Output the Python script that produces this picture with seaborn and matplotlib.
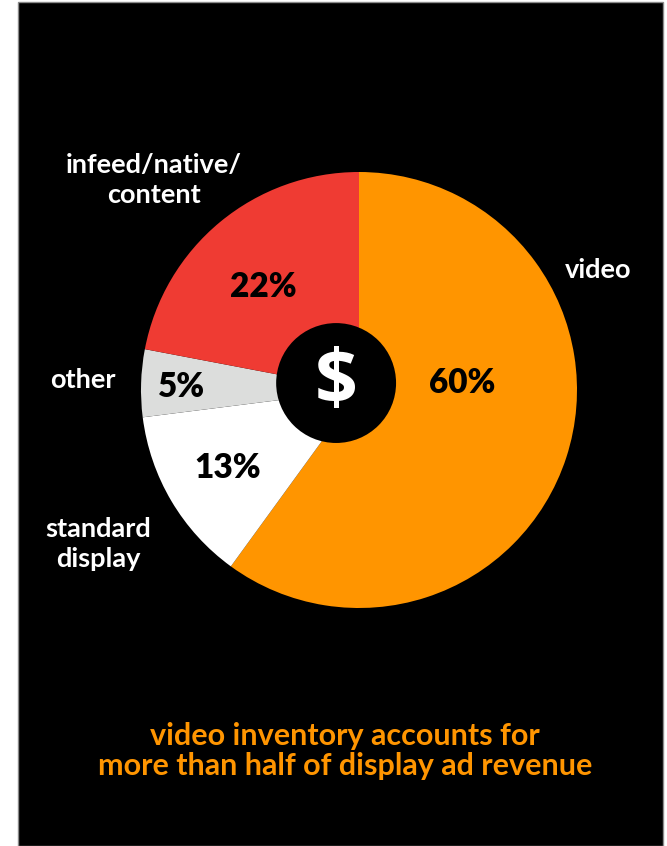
import matplotlib
matplotlib.use("Agg")
import matplotlib.pyplot as plt
import seaborn as sns
from matplotlib.patches import Rectangle, Circle

# Share of display ad revenue by inventory type
categories = ["video", "standard\ndisplay", "other", "infeed/native/\ncontent"]
shares = [60, 13, 5, 22]
colors = ["#FF9500", "#FFFFFF", "#DCDDDC", "#EF3B33"]
caption = "video inventory accounts for\nmore than half of display ad revenue"

sns.set_theme(style="white")
plt.rcParams["font.family"] = ["Lato", "DejaVu Sans"]

W, H = 667, 846
fig = plt.figure(figsize=(W / 100, H / 100), dpi=100, facecolor="white")

# black panel behind everything
fig.patches.append(Rectangle((18 / W, 0), (663 - 18) / W, (H - 2) / H,
                             transform=fig.transFigure, facecolor="black",
                             edgecolor="#8a8a8a", linewidth=1.0, zorder=-5))

cx, cy, R = 359, 390, 218
ax = fig.add_axes([(cx - R) / W, 1 - (cy + R) / H, 2 * R / W, 2 * R / H])
ax.set_facecolor("none")
wedges, _ = ax.pie(shares, colors=colors, startangle=90, counterclock=False,
                   radius=1.0, wedgeprops=dict(linewidth=0))
ax.set_xlim(-1, 1)
ax.set_ylim(-1, 1)
ax.set_aspect("equal")
ax.axis("off")

# centre badge with dollar sign
ax.add_patch(Circle((-0.105, 0.032), 0.275, facecolor="black", edgecolor="none", zorder=5))
ax.text(-0.105, 0.030, "$", ha="center", va="center", color="white",
        fontsize=54, fontweight="bold", family=["Open Sans", "DejaVu Sans"], zorder=6)

# value labels inside the wedges
pct_pos = [(0.472, 0.032), (-0.601, -0.358), (-0.812, 0.014), (-0.440, 0.472)]
for (x, y), v in zip(pct_pos, shares):
    ax.text(x, y, f"{v}%", ha="center", va="center", color="black",
            fontsize=24, fontweight="heavy", zorder=6)

# category names outside the pie
name_pos = [(1.096, 0.550), (-1.197, -0.706), (-1.266, 0.046), (-0.940, 0.963)]
for (x, y), name in zip(name_pos, categories):
    ax.text(x, y, name, ha="center", va="center", color="white",
            fontsize=19.5, fontweight="bold", linespacing=1.3)

fig.text(345 / W, 1 - 751 / H, caption, ha="center", va="center",
         color="#FF9500", fontsize=22, fontweight="bold", linespacing=1.1)

fig.savefig("out.png", dpi=100, facecolor="white")
